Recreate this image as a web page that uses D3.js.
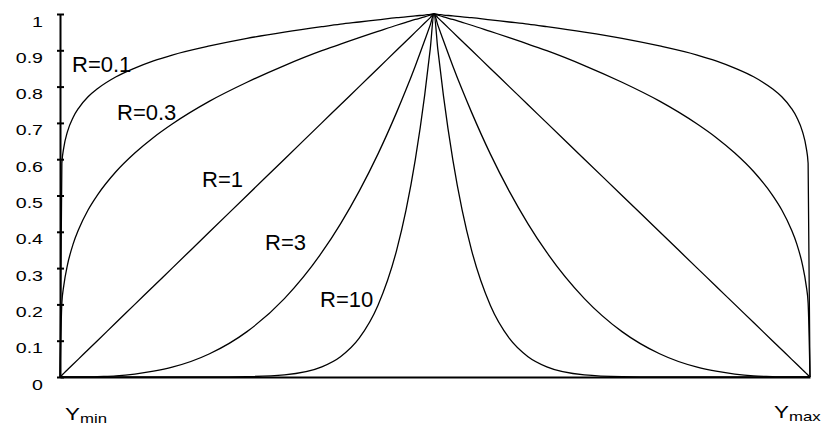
<!DOCTYPE html>
<html>
<head>
<meta charset="utf-8">
<script src="https://cdn.jsdelivr.net/npm/d3@7/dist/d3.min.js"></script>
<style>
  html, body { margin: 0; padding: 0; background: #fff; }
  svg { display: block; }
  text { font-family: "Liberation Sans", Arial, sans-serif; fill: #000; }
</style>
</head>
<body>
<svg id="chart" width="823" height="432"></svg>
<script>
// Position along the range: 0 = Ymin, 1 = centre, 2 = Ymax
const xPos = [0, 0.005, 0.01, 0.02, 0.035, 0.05, 0.075, 0.1, 0.15, 0.2, 0.25, 0.3, 0.4, 0.5, 0.6, 0.7, 0.75, 0.8, 0.85, 0.9, 0.925, 0.95, 0.975, 0.99, 1,
              1.01, 1.025, 1.05, 1.075, 1.1, 1.15, 1.2, 1.25, 1.3, 1.4, 1.5, 1.6, 1.7, 1.75, 1.8, 1.85, 1.9, 1.925, 1.95, 1.965, 1.98, 1.99, 1.995, 2];

const seriesR01 = [0, 0.589, 0.631, 0.676, 0.715, 0.741, 0.772, 0.794, 0.827, 0.851, 0.871, 0.887, 0.912, 0.933, 0.950, 0.965, 0.972, 0.978, 0.984, 0.990, 0.992, 0.995, 0.997, 0.999, 1,
                   0.999, 0.997, 0.995, 0.992, 0.990, 0.984, 0.978, 0.972, 0.965, 0.950, 0.933, 0.912, 0.887, 0.871, 0.851, 0.827, 0.794, 0.772, 0.741, 0.715, 0.676, 0.631, 0.589, 0];
const seriesR03 = [0, 0.204, 0.251, 0.309, 0.366, 0.407, 0.460, 0.501, 0.566, 0.617, 0.660, 0.697, 0.760, 0.812, 0.858, 0.899, 0.917, 0.935, 0.952, 0.969, 0.977, 0.985, 0.992, 0.997, 1,
                   0.997, 0.992, 0.985, 0.977, 0.969, 0.952, 0.935, 0.917, 0.899, 0.858, 0.812, 0.760, 0.697, 0.660, 0.617, 0.566, 0.501, 0.460, 0.407, 0.366, 0.309, 0.251, 0.204, 0];
const seriesR1  = [0, 0.005, 0.01, 0.02, 0.035, 0.05, 0.075, 0.1, 0.15, 0.2, 0.25, 0.3, 0.4, 0.5, 0.6, 0.7, 0.75, 0.8, 0.85, 0.9, 0.925, 0.95, 0.975, 0.99, 1,
                   0.99, 0.975, 0.95, 0.925, 0.9, 0.85, 0.8, 0.75, 0.7, 0.6, 0.5, 0.4, 0.3, 0.25, 0.2, 0.15, 0.1, 0.075, 0.05, 0.035, 0.02, 0.01, 0.005, 0];
const seriesR3  = [0, 0, 0, 0, 0, 0, 0, 0.001, 0.003, 0.008, 0.016, 0.027, 0.064, 0.125, 0.216, 0.343, 0.422, 0.512, 0.614, 0.729, 0.791, 0.857, 0.927, 0.970, 1,
                   0.970, 0.927, 0.857, 0.791, 0.729, 0.614, 0.512, 0.422, 0.343, 0.216, 0.125, 0.064, 0.027, 0.016, 0.008, 0.003, 0.001, 0, 0, 0, 0, 0, 0, 0];
const seriesR10 = [0, 0, 0, 0, 0, 0, 0, 0, 0, 0, 0, 0, 0, 0.001, 0.006, 0.028, 0.056, 0.107, 0.197, 0.349, 0.459, 0.599, 0.776, 0.904, 1,
                   0.904, 0.776, 0.599, 0.459, 0.349, 0.197, 0.107, 0.056, 0.028, 0.006, 0.001, 0, 0, 0, 0, 0, 0, 0, 0, 0, 0, 0, 0, 0];

const seriesNames = ["R=0.1", "R=0.3", "R=1", "R=3", "R=10"];
const seriesValues = [seriesR01, seriesR03, seriesR1, seriesR3, seriesR10];

const yTicks = [0, 0.1, 0.2, 0.3, 0.4, 0.5, 0.6, 0.7, 0.8, 0.9, 1];
const yTickLabels = ["0", "0.1", "0.2", "0.3", "0.4", "0.5", "0.6", "0.7", "0.8", "0.9", "1"];

const svg = d3.select("#chart");

const x = d3.scaleLinear().domain([0, 1, 2]).range([60, 434, 810]);
const y = d3.scaleLinear().domain([0, 1]).range([377, 14]);

// Curves
const line = d3.line()
  .x((d, i) => x(xPos[i]))
  .y(d => y(d))
  .curve(d3.curveMonotoneX);

svg.append("g")
  .selectAll("path")
  .data(seriesValues)
  .join("path")
  .attr("d", d => line(d))
  .attr("fill", "none")
  .attr("stroke", "#000")
  .attr("stroke-width", 1.3);

// Horizontal axis (bare baseline)
svg.append("g")
  .attr("transform", `translate(0,${y(0)})`)
  .call(d3.axisBottom(x).tickValues([]).tickSizeOuter(0))
  .call(g => g.select(".domain").attr("stroke", "#000").attr("stroke-width", 2));

// Vertical axis with ticks crossing the line
const yAxis = svg.append("g")
  .attr("transform", `translate(${x(0)},0)`)
  .call(d3.axisLeft(y).tickValues(yTicks)
    .tickFormat((d, i) => yTickLabels[i])
    .tickSize(0).tickPadding(0).tickSizeOuter(0));

yAxis.select(".domain").attr("stroke", "#000").attr("stroke-width", 2);
yAxis.selectAll(".tick line")
  .attr("x1", -3).attr("x2", 4)
  .attr("stroke", "#000").attr("stroke-width", 2);
yAxis.selectAll(".tick text")
  .attr("x", null).attr("dy", null)
  .attr("text-anchor", "end")
  .attr("font-size", 14)
  .attr("font-family", "'Liberation Sans', Arial, sans-serif")
  .attr("fill", "#000")
  .attr("transform", "translate(-17,12) scale(1.4,1)");

// Curve labels
const labelPos = [[72, 72], [117, 120], [202, 187], [265, 250], [320, 307]];
svg.append("g")
  .selectAll("text")
  .data(seriesNames)
  .join("text")
  .attr("x", (d, i) => labelPos[i][0])
  .attr("y", (d, i) => labelPos[i][1])
  .attr("font-size", 22)
  .text(d => d);

// End labels under the horizontal axis
const endLabels = [{ main: "Y", sub: "min", x: 65, y: 420 }, { main: "Y", sub: "max", x: 774, y: 418 }];
endLabels.forEach(l => {
  const t = svg.append("text")
    .attr("transform", `translate(${l.x},${l.y}) scale(1.4,1)`)
    .attr("font-size", 16);
  t.append("tspan").text(l.main);
  t.append("tspan").attr("font-size", 12).attr("dy", 2.5).text(l.sub);
});
</script>
</body>
</html>
